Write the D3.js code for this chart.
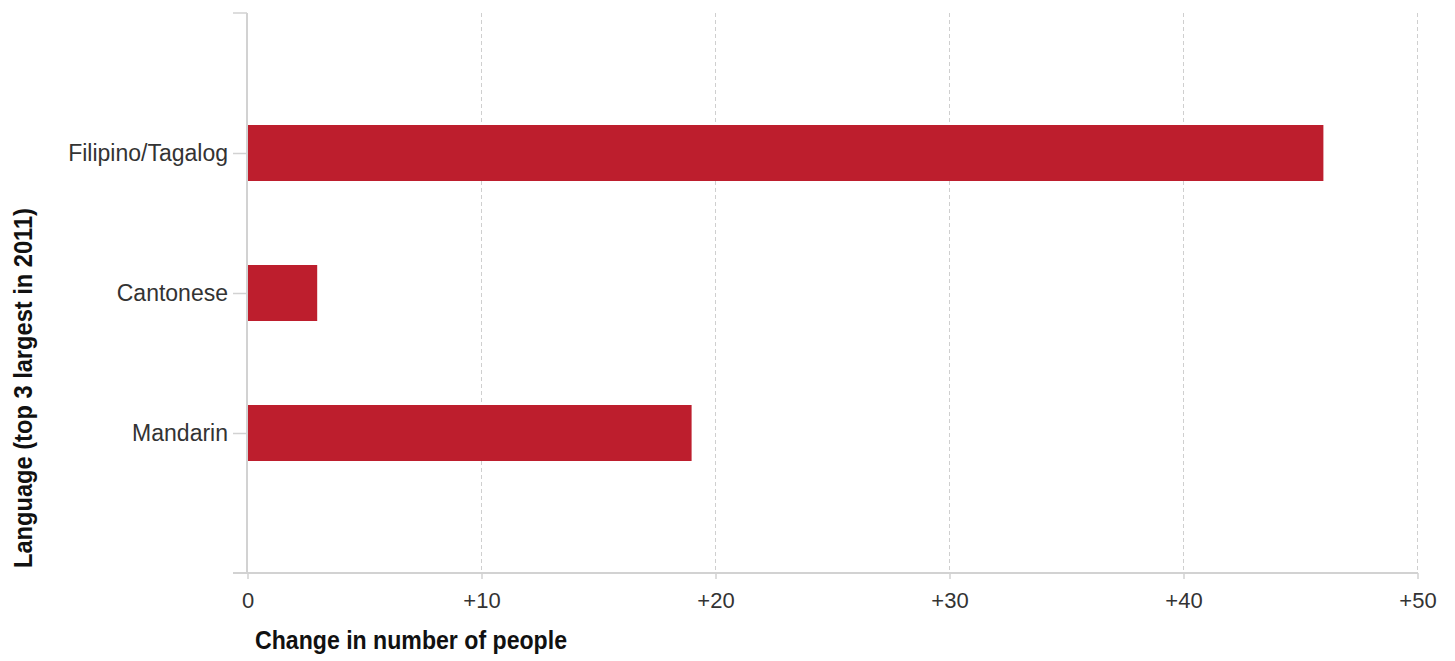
<!DOCTYPE html>
<html>
<head>
<meta charset="utf-8">
<script src="https://cdn.jsdelivr.net/npm/d3@7"></script>
<style>
  html, body { margin: 0; padding: 0; background: #ffffff; }
  svg { display: block; }
</style>
</head>
<body>
<svg id="chart" width="1455" height="661"></svg>
<script>
// ---- data ----
const categories = ["Filipino/Tagalog", "Cantonese", "Mandarin"];
const values = [46, 3, 19];
const xTicks = [0, 10, 20, 30, 40, 50];
const xTitle = "Change in number of people";
const yTitle = "Language (top 3 largest in 2011)";

// ---- layout ----
const svg = d3.select("#chart");
const plotLeft = 247, plotRight = 1417, plotTop = 13, plotBottom = 573;
const barColor = "#bd1e2d";
const axisColor = "#d2d2d2";
const gridColor = "#cfcfcf";
const labelColor = "#333333";
const font = "'Liberation Sans', Arial, sans-serif";

const x = d3.scaleLinear().domain([0, 50]).range([plotLeft, plotRight]);
const y = d3.scalePoint().domain(categories).range([plotTop, plotBottom]).padding(1);
const barH = 56;

// gridlines
svg.append("g").selectAll("line")
  .data(xTicks.filter(d => d !== 0))
  .join("line")
  .attr("x1", d => x(d) + 0.5).attr("x2", d => x(d) + 0.5)
  .attr("y1", plotTop).attr("y2", plotBottom)
  .attr("stroke", gridColor).attr("stroke-width", 1)
  .attr("stroke-dasharray", "4,3");

// bars
svg.append("g").selectAll("rect")
  .data(categories.map((c, i) => ({ c, v: values[i] })))
  .join("rect")
  .attr("x", x(0) + 1)
  .attr("y", d => y(d.c) - barH / 2)
  .attr("width", d => x(d.v) - x(0) - 1)
  .attr("height", barH)
  .attr("fill", barColor);

// x axis
const xAxis = d3.axisBottom(x)
  .tickValues(xTicks)
  .tickSize(6).tickSizeOuter(0).tickPadding(13)
  .tickFormat(d => d === 0 ? "0" : "+" + d);
const gx = svg.append("g").attr("transform", `translate(0.5,${plotBottom})`).call(xAxis);
gx.select(".domain").remove();
gx.selectAll(".tick line").attr("stroke", axisColor).attr("stroke-width", 1.5);
gx.selectAll(".tick text")
  .attr("fill", labelColor).attr("font-family", font).attr("font-size", 22);

// y axis
const yAxis = d3.axisLeft(y).tickSize(14).tickSizeOuter(0).tickPadding(5);
const gy = svg.append("g").attr("transform", `translate(${plotLeft},0)`).call(yAxis);
gy.select(".domain").remove();
gy.selectAll(".tick line").attr("stroke", axisColor).attr("stroke-width", 1.5);
gy.selectAll(".tick text")
  .attr("fill", labelColor).attr("font-family", font).attr("font-size", 23);

// axis lines
svg.append("line")
  .attr("x1", plotLeft - 14).attr("x2", plotRight + 1)
  .attr("y1", plotBottom).attr("y2", plotBottom)
  .attr("stroke", axisColor).attr("stroke-width", 2);
svg.append("line")
  .attr("x1", plotLeft).attr("x2", plotLeft)
  .attr("y1", plotTop).attr("y2", plotBottom)
  .attr("stroke", axisColor).attr("stroke-width", 2);
svg.append("line")
  .attr("x1", plotLeft - 14).attr("x2", plotLeft)
  .attr("y1", plotTop).attr("y2", plotTop)
  .attr("stroke", axisColor).attr("stroke-width", 1.5);

// titles
const titleFont = "'Liberation Sans Narrow', 'Arial Narrow', 'Liberation Sans', Arial, sans-serif";
svg.append("text")
  .attr("x", 411).attr("y", 649)
  .attr("text-anchor", "middle")
  .attr("font-family", titleFont).attr("font-weight", "bold").attr("font-size", 26)
  .attr("textLength", 312).attr("lengthAdjust", "spacingAndGlyphs")
  .attr("fill", "#111")
  .text(xTitle);

svg.append("text")
  .attr("transform", "translate(31.5,388) rotate(-90)")
  .attr("text-anchor", "middle")
  .attr("font-family", titleFont).attr("font-weight", "bold").attr("font-size", 26)
  .attr("textLength", 360).attr("lengthAdjust", "spacingAndGlyphs")
  .attr("fill", "#111")
  .text(yTitle);
</script>
</body>
</html>
